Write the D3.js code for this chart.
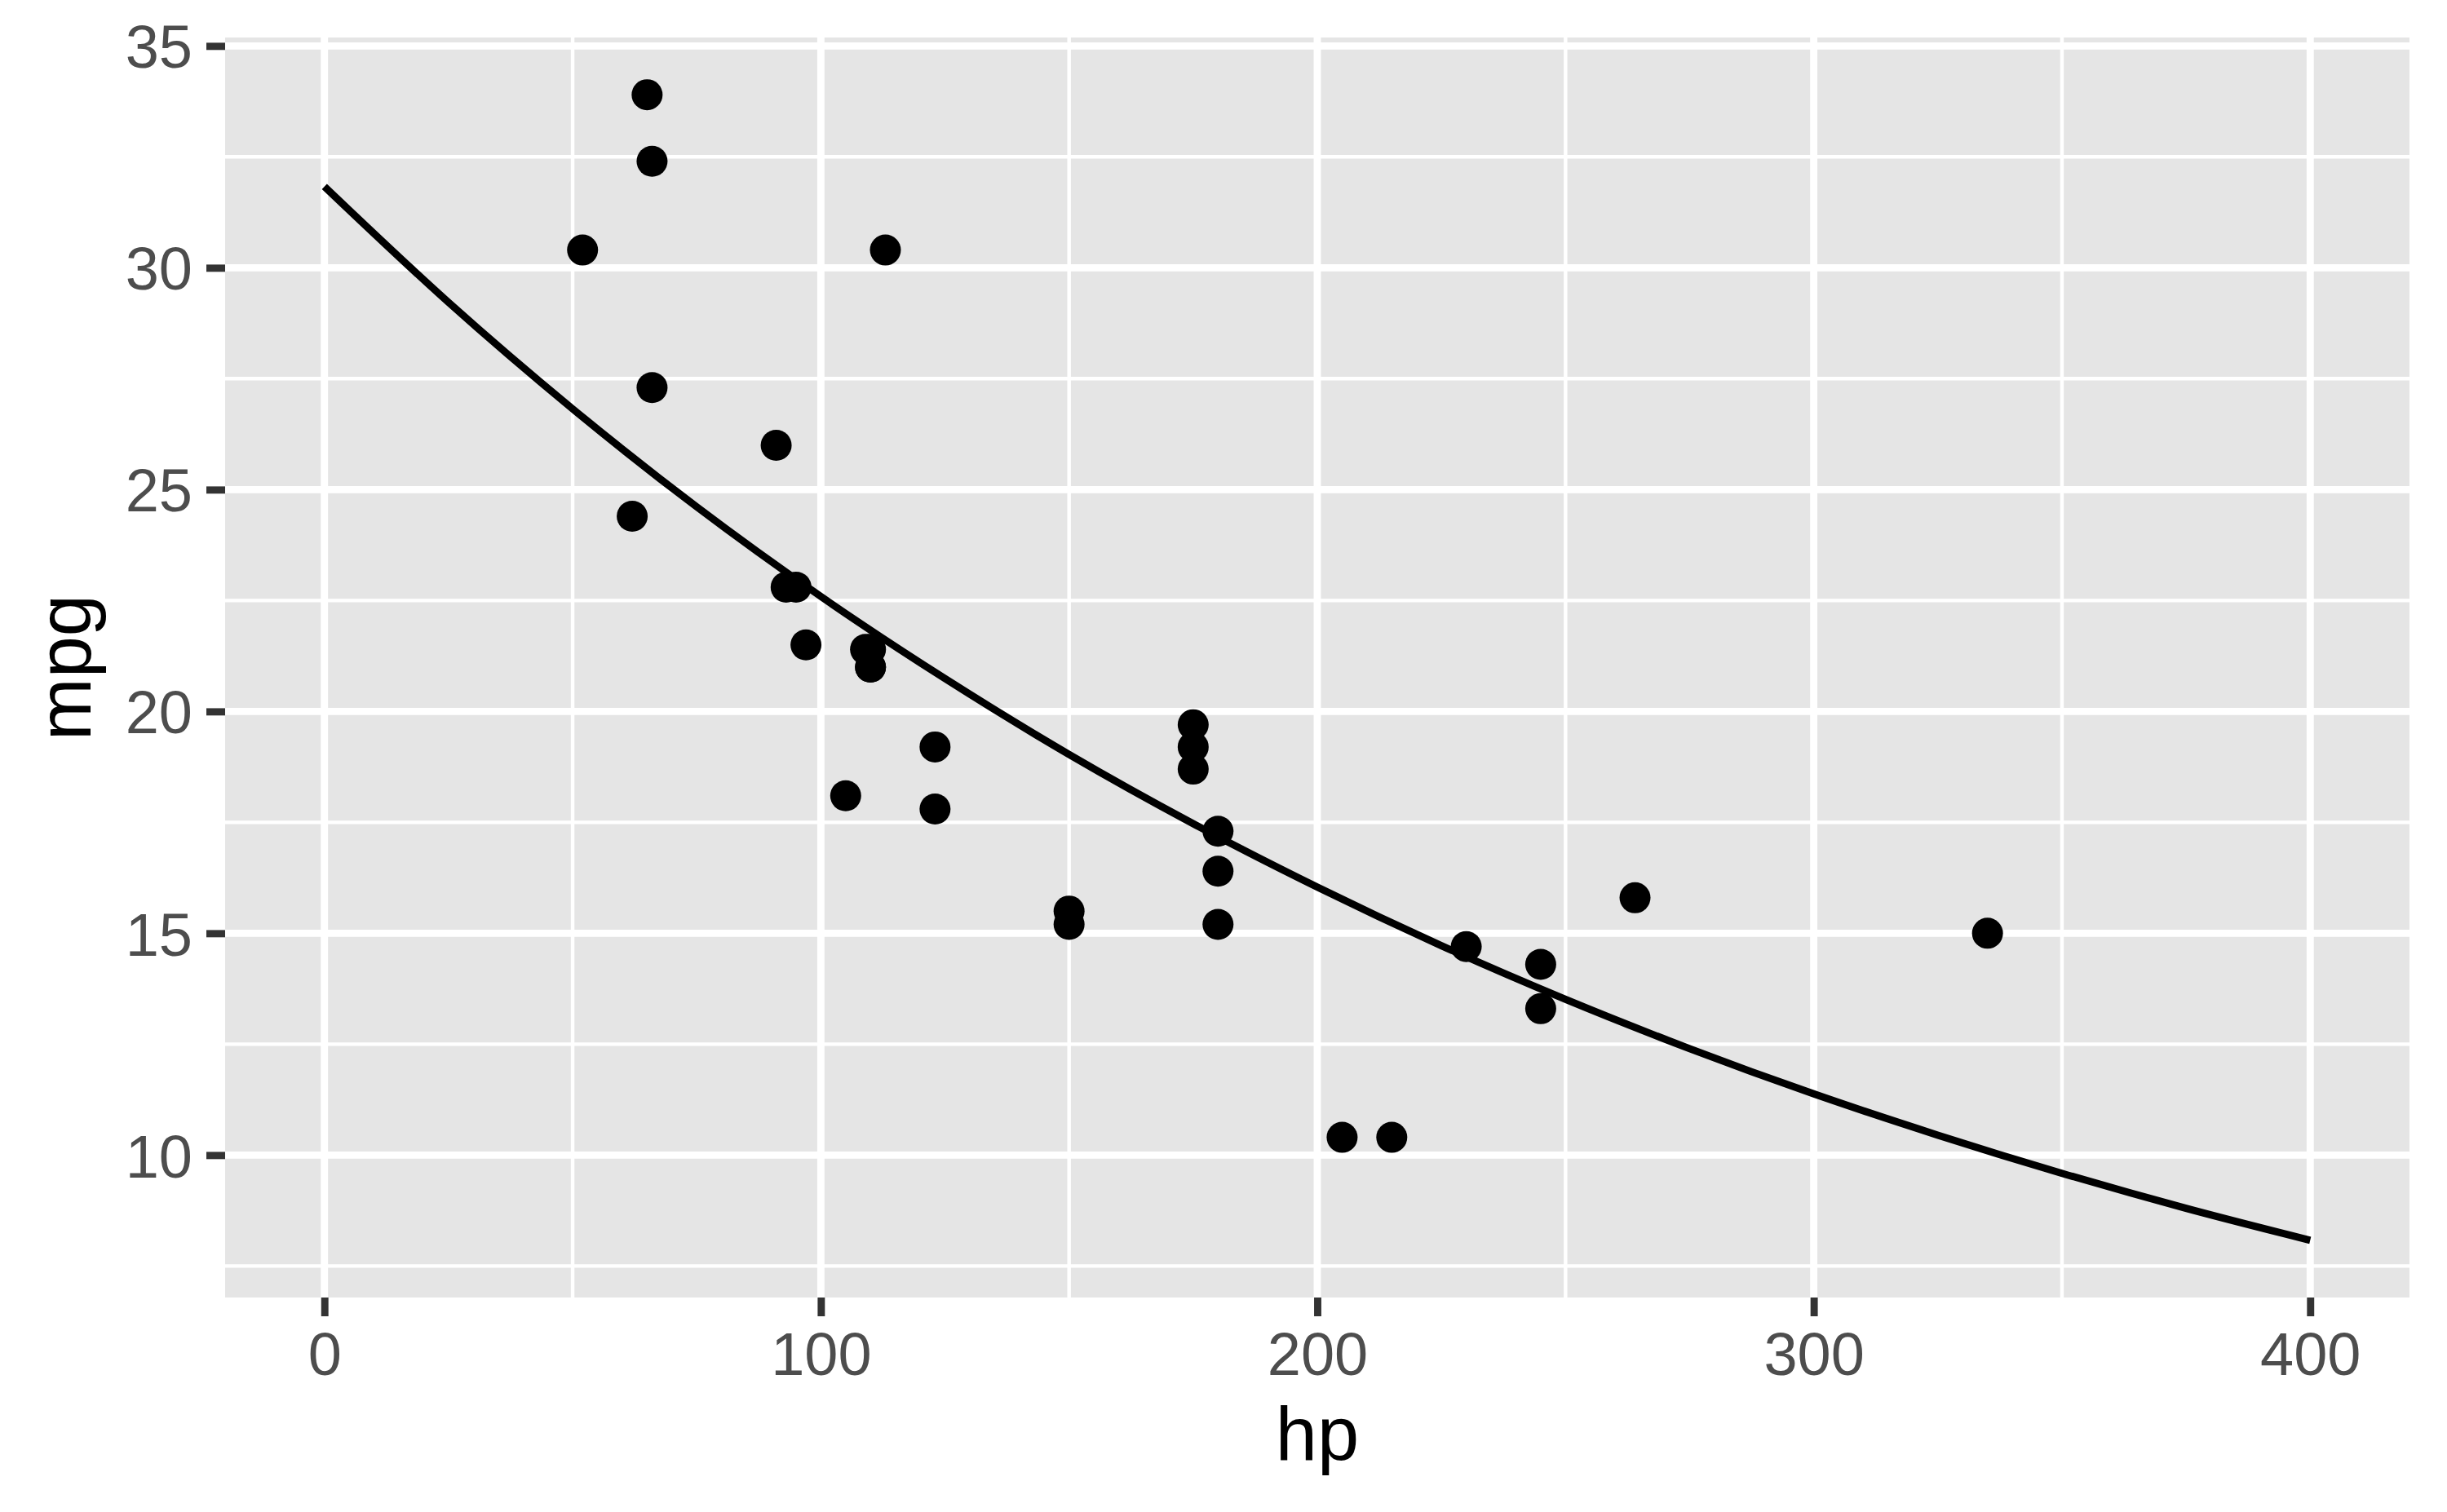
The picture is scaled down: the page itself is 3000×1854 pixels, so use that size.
<!DOCTYPE html>
<html>
<head>
<meta charset="utf-8">
<script src="https://cdn.jsdelivr.net/npm/d3@7/dist/d3.min.js"></script>
<style>
  html, body { margin: 0; padding: 0; background: #fff; }
  svg { display: block; font-family: "Liberation Sans", Arial, Helvetica, sans-serif; }
</style>
</head>
<body>
<div id="chart"></div>
<script>
  // mtcars: horsepower vs miles per gallon
  var hp  = [110, 110, 93, 110, 175, 105, 245, 62, 95, 123, 123, 180, 180, 180, 205, 215,
             230, 66, 52, 65, 97, 150, 150, 245, 175, 66, 91, 113, 264, 175, 335, 109];
  var mpg = [21.0, 21.0, 22.8, 21.4, 18.7, 18.1, 14.3, 24.4, 22.8, 19.2, 17.8, 16.4, 17.3, 15.2, 10.4, 10.4,
             14.7, 32.4, 30.4, 33.9, 21.5, 15.5, 15.2, 13.3, 19.2, 27.3, 26.0, 30.4, 15.8, 19.7, 15.0, 21.4];

  // fitted curve
  var fitHp  = [0, 25, 50, 75, 100, 125, 150, 175, 200, 225, 250, 275, 300, 325, 350, 375, 400];
  var fitMpg = [31.83, 29.22, 26.82, 24.61, 22.59, 20.74, 19.03, 17.47, 16.04, 14.72, 13.51, 12.40, 11.38, 10.45, 9.59, 8.80, 8.08];

  var xTicks = [0, 100, 200, 300, 400];
  var xMinor = [50, 150, 250, 350];
  var yTicks = [10, 15, 20, 25, 30, 35];
  var yMinor = [7.5, 12.5, 17.5, 22.5, 27.5, 32.5];

  var W = 3000, H = 1854;
  var panel = { left: 276, right: 2954, top: 46, bottom: 1591 };

  var svg = d3.select("#chart").append("svg")
    .attr("width", W)
    .attr("height", H);

  var x = d3.scaleLinear().domain([-20, 420]).range([panel.left, panel.right]);
  var y = d3.scaleLinear().domain([6.79, 35.19]).range([panel.bottom, panel.top]);

  // panel background
  svg.append("rect")
    .attr("x", panel.left)
    .attr("y", panel.top)
    .attr("width", panel.right - panel.left)
    .attr("height", panel.bottom - panel.top)
    .attr("fill", "#E5E5E5");

  var grid = svg.append("g").attr("stroke", "#fff");

  grid.selectAll(".minor-y").data(yMinor).enter().append("line")
    .attr("x1", panel.left).attr("x2", panel.right)
    .attr("y1", function (d) { return y(d); })
    .attr("y2", function (d) { return y(d); })
    .attr("stroke-width", 4.45);

  grid.selectAll(".minor-x").data(xMinor).enter().append("line")
    .attr("y1", panel.top).attr("y2", panel.bottom)
    .attr("x1", function (d) { return x(d); })
    .attr("x2", function (d) { return x(d); })
    .attr("stroke-width", 4.45);

  grid.selectAll(".major-y").data(yTicks).enter().append("line")
    .attr("x1", panel.left).attr("x2", panel.right)
    .attr("y1", function (d) { return y(d); })
    .attr("y2", function (d) { return y(d); })
    .attr("stroke-width", 8.9);

  grid.selectAll(".major-x").data(xTicks).enter().append("line")
    .attr("y1", panel.top).attr("y2", panel.bottom)
    .attr("x1", function (d) { return x(d); })
    .attr("x2", function (d) { return x(d); })
    .attr("stroke-width", 8.9);

  // fitted curve
  var fit = fitHp.map(function (h, i) { return [h, fitMpg[i]]; });
  svg.append("path")
    .datum(fit)
    .attr("fill", "none")
    .attr("stroke", "#000")
    .attr("stroke-width", 8.9)
    .attr("d", d3.line()
      .x(function (d) { return x(d[0]); })
      .y(function (d) { return y(d[1]); })
      .curve(d3.curveMonotoneX));

  // points
  svg.append("g").selectAll("circle")
    .data(hp.map(function (h, i) { return [h, mpg[i]]; }))
    .enter().append("circle")
    .attr("cx", function (d) { return x(d[0]); })
    .attr("cy", function (d) { return y(d[1]); })
    .attr("r", 19)
    .attr("fill", "#000");

  // axes
  var xAxis = svg.append("g")
    .attr("transform", "translate(0," + panel.bottom + ")")
    .call(d3.axisBottom(x).tickValues(xTicks).tickSize(23).tickPadding(19.5).tickFormat(d3.format("d")));

  var yAxis = svg.append("g")
    .attr("transform", "translate(" + panel.left + ",0)")
    .call(d3.axisLeft(y).tickValues(yTicks).tickSize(23).tickPadding(17).tickFormat(d3.format("d")));

  [xAxis, yAxis].forEach(function (ax) {
    ax.select(".domain").remove();
    ax.selectAll(".tick line").attr("stroke", "#333333").attr("stroke-width", 8.9);
    ax.selectAll(".tick text")
      .attr("fill", "#4D4D4D")
      .style("font-size", "74px")
      .style("font-family", "'Liberation Sans', Arial, Helvetica, sans-serif");
  });
  yAxis.selectAll(".tick text").attr("dy", "0.36em");

  // axis titles
  svg.append("text")
    .attr("x", (panel.left + panel.right) / 2)
    .attr("y", 1790)
    .attr("text-anchor", "middle")
    .attr("fill", "#000")
    .style("font-size", "92px")
    .text("hp");

  svg.append("text")
    .attr("transform", "translate(111," + ((panel.top + panel.bottom) / 2) + ") rotate(-90)")
    .attr("text-anchor", "middle")
    .attr("fill", "#000")
    .style("font-size", "92px")
    .text("mpg");
</script>
</body>
</html>
